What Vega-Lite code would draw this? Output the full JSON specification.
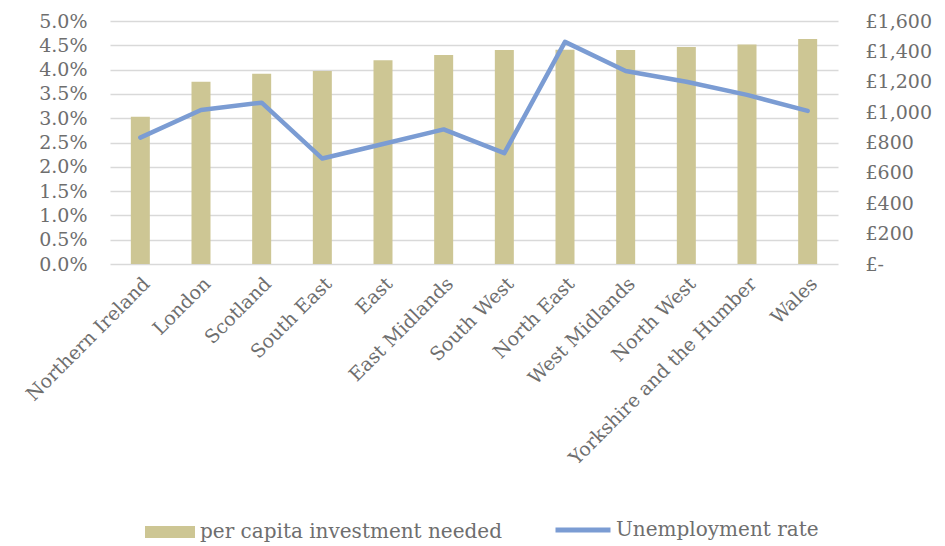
{
  "$schema": "https://vega.github.io/schema/vega-lite/v6.json",
  "autosize": "none",
  "width": 728,
  "height": 243,
  "padding": {"left": 110, "top": 21, "right": 107, "bottom": 282},
  "background": "white",
  "config": {
    "view": {"stroke": null},
    "font": "DejaVu Serif",
    "axis": {"labelFont": "DejaVu Serif", "labelFontSize": 19, "labelColor": "#6E6E6E", "ticks": false, "domain": false, "title": null, "labelLimit": 400},
    "legend": {"labelFont": "DejaVu Serif", "labelFontSize": 20, "labelColor": "#6E6E6E", "title": null, "labelLimit": 400}
  },
  "data": {
    "values": [
      {"region": "Northern Ireland", "investment": 970, "unemployment": 0.026},
      {"region": "London", "investment": 1200, "unemployment": 0.0317},
      {"region": "Scotland", "investment": 1253, "unemployment": 0.0332},
      {"region": "South East", "investment": 1271, "unemployment": 0.0217},
      {"region": "East", "investment": 1341, "unemployment": 0.0247},
      {"region": "East Midlands", "investment": 1376, "unemployment": 0.0277},
      {"region": "South West", "investment": 1409, "unemployment": 0.0228},
      {"region": "North East", "investment": 1410, "unemployment": 0.0457},
      {"region": "West Midlands", "investment": 1409, "unemployment": 0.0397},
      {"region": "North West", "investment": 1429, "unemployment": 0.0375},
      {"region": "Yorkshire and the Humber", "investment": 1446, "unemployment": 0.0348},
      {"region": "Wales", "investment": 1481, "unemployment": 0.0315}
    ]
  },
  "encoding": {
    "x": {
      "field": "region",
      "type": "nominal",
      "sort": null,
      "scale": {"paddingInner": 0, "paddingOuter": 0},
      "axis": {"labelAngle": -45, "labelPadding": 10, "grid": false}
    }
  },
  "layer": [
    {
      "mark": {"type": "bar", "size": 19},
      "encoding": {
        "y": {
          "field": "investment",
          "type": "quantitative",
          "scale": {"domain": [0, 1600]},
          "axis": {
            "orient": "right",
            "values": [0, 200, 400, 600, 800, 1000, 1200, 1400, 1600],
            "labelExpr": "datum.value == 0 ? '£-' : '£' + format(datum.value, ',')",
            "labelPadding": 27,
            "grid": false
          }
        },
        "color": {
          "datum": "per capita investment needed",
          "scale": {"range": ["#CDC694"]},
          "legend": {
            "orient": "none",
            "legendX": 35,
            "legendY": 486,
            "symbolType": "M-1,-0.24H1V0.24H-1Z",
            "symbolSize": 2500,
            "symbolStrokeWidth": 0,
            "labelOffset": 5,
            "padding": 0
          }
        }
      }
    },
    {
      "mark": {"type": "line", "strokeWidth": 4.5, "strokeJoin": "round", "strokeCap": "round"},
      "encoding": {
        "y": {
          "field": "unemployment",
          "type": "quantitative",
          "scale": {"domain": [0, 0.05]},
          "axis": {
            "orient": "left",
            "values": [0, 0.005, 0.01, 0.015, 0.02, 0.025, 0.03, 0.035, 0.04, 0.045, 0.05],
            "format": ".1%",
            "labelPadding": 23,
            "grid": true,
            "gridColor": "#D9D9D9",
            "gridWidth": 1.5
          }
        },
        "stroke": {
          "datum": "Unemployment rate",
          "scale": {"range": ["#7B9CD3"]},
          "legend": {
            "orient": "none",
            "legendX": 443,
            "legendY": 479,
            "symbolType": "stroke",
            "symbolSize": 3025,
            "symbolStrokeWidth": 5,
            "labelOffset": 3,
            "padding": 0
          }
        }
      }
    }
  ],
  "resolve": {"scale": {"y": "independent"}}
}
